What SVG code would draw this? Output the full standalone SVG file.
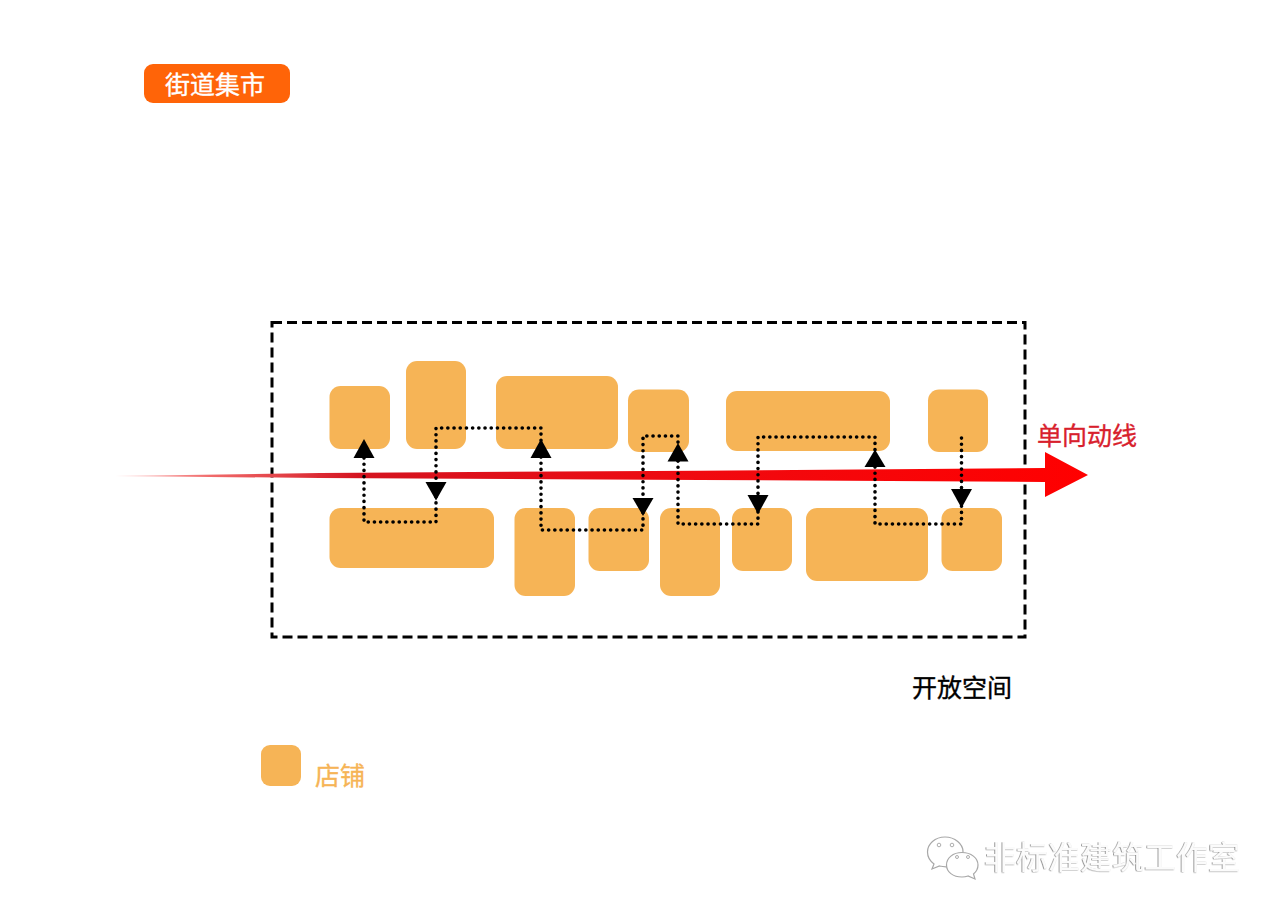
<svg xmlns="http://www.w3.org/2000/svg" width="1280" height="915" viewBox="0 0 1280 915">
<defs>
<linearGradient id="shaft" gradientUnits="userSpaceOnUse" x1="115" y1="0" x2="1088" y2="0">
<stop offset="0" stop-color="#ffc8c8"/><stop offset="0.1" stop-color="#f06a6a"/><stop offset="0.25" stop-color="#d41420"/><stop offset="0.6" stop-color="#f00a10"/><stop offset="1" stop-color="#ff0000"/>
</linearGradient>
<filter id="emboss" x="-5%" y="-20%" width="110%" height="140%">
<feDropShadow dx="-0.7" dy="0.3" stdDeviation="0.35" flood-color="#6e6e6e"/>
</filter>
</defs>
<style>
text{font-family:"Noto Sans CJK SC","Noto Sans",sans-serif;font-size:25px;font-weight:400}
.lbl{stroke-width:.35}
.shop{fill:#f6b456}
.dot{fill:none;stroke:#000;stroke-width:3.600;stroke-linecap:round;stroke-dasharray:0.100 6.100}
.head{fill:#000}
.bubble{fill:#fff;stroke:#a8a8a8;stroke-width:1.200}
.eye{fill:#fff;stroke:#999;stroke-width:.8}
</style>
<rect width="1280" height="915" fill="#fff"/>
<g id="title-badge">
<rect x="144" y="64" width="146" height="39" rx="9" fill="#ff6408"/>
<text class="lbl" x="215" y="94" text-anchor="middle" fill="#fff" stroke="#fff">街道集市</text>
</g>
<g id="open-space">
<rect x="272" y="322.500" width="753" height="314.500" fill="none" stroke="#000" stroke-width="3" stroke-dasharray="10 5"/>
<text class="lbl" x="912" y="697" fill="#000" stroke="#000">开放空间</text>
</g>
<g id="shop-1"><rect class="shop" x="329.500" y="386" width="60.500" height="63" rx="11"/></g>
<g id="shop-2"><rect class="shop" x="406" y="361" width="60" height="88" rx="11"/></g>
<g id="shop-3"><rect class="shop" x="496" y="376" width="122" height="73" rx="11"/></g>
<g id="shop-4"><rect class="shop" x="628" y="389.500" width="61" height="62.500" rx="11"/></g>
<g id="shop-5"><rect class="shop" x="726" y="391" width="164" height="60" rx="11"/></g>
<g id="shop-6"><rect class="shop" x="928" y="389.500" width="60" height="62.500" rx="11"/></g>
<g id="shop-7"><rect class="shop" x="329.500" y="508" width="164.500" height="60" rx="11"/></g>
<g id="shop-8"><rect class="shop" x="514.500" y="508" width="60.500" height="88" rx="11"/></g>
<g id="shop-9"><rect class="shop" x="588.500" y="508" width="60.500" height="63" rx="11"/></g>
<g id="shop-10"><rect class="shop" x="660" y="508" width="60" height="88" rx="11"/></g>
<g id="shop-11"><rect class="shop" x="732" y="508" width="60" height="63" rx="11"/></g>
<g id="shop-12"><rect class="shop" x="806" y="508" width="122" height="73" rx="11"/></g>
<g id="shop-13"><rect class="shop" x="941.500" y="508" width="60.500" height="63" rx="11"/></g>
<g id="connectors">
<polygon points="115,476 320,473 700,470.700 1045,468 1045,452 1088,475 1045,497 1045,482 700,480 320,478" fill="url(#shaft)"/>
<path class="dot" d="M364 458V522H436V428H541V457"/>
<path class="dot" d="M541 457V530H643V436H678V461"/>
<path class="dot" d="M678 461V524H758V437H875V467"/>
<path class="dot" d="M875 467V524H961.500V438"/>
<polygon class="head" points="364,439 353.500,458 374.500,458"/>
<polygon class="head" points="436,500.500 425.500,482 446.500,482"/>
<polygon class="head" points="541,439 530.500,458 551.500,458"/>
<polygon class="head" points="643,516 632.500,498 653.500,498"/>
<polygon class="head" points="678,443 667.500,461.500 688.500,461.500"/>
<polygon class="head" points="758,514 747.500,495 768.500,495"/>
<polygon class="head" points="875,449.500 864.500,467 885.500,467"/>
<polygon class="head" points="961.500,508 951,489 972,489"/>
</g>
<g id="label-flow"><text class="lbl" x="1037" y="445" fill="#d8202c" stroke="#d8202c">单向动线</text></g>
<g id="legend">
<rect class="shop" x="261" y="745" width="40" height="41" rx="9"/>
<text class="lbl" x="315" y="785" fill="#f6b456" stroke="#f6b456">店铺</text>
</g>
<g id="watermark">
<path class="bubble" d="M945 837C935 837 927.500 844 927.500 852C927.500 857 930 861 934 864L932 869L939.500 866C941.500 866.500 943.500 866.800 946 866.800C954 866.800 963 860 963 851.500C963 844 955 837 945 837Z"/>
<path class="bubble" d="M962 852.500C953 852.500 946.500 858 946.500 865C946.500 872 953 877 962 877C964 877 966 876.700 968 876L975 879L973.500 874C976.500 871.500 978 868.500 978 865C978 858 971 852.500 962 852.500Z"/>
<circle class="eye" cx="939" cy="845" r="1.800"/><circle class="eye" cx="952" cy="845" r="1.800"/>
<circle class="eye" cx="957" cy="857" r="1.500"/><circle class="eye" cx="968" cy="857" r="1.500"/>
<text x="984" y="869" fill="#fbfbfb" filter="url(#emboss)" style="font-size:32px;font-weight:400">非标准建筑工作室</text>
</g>
</svg>
